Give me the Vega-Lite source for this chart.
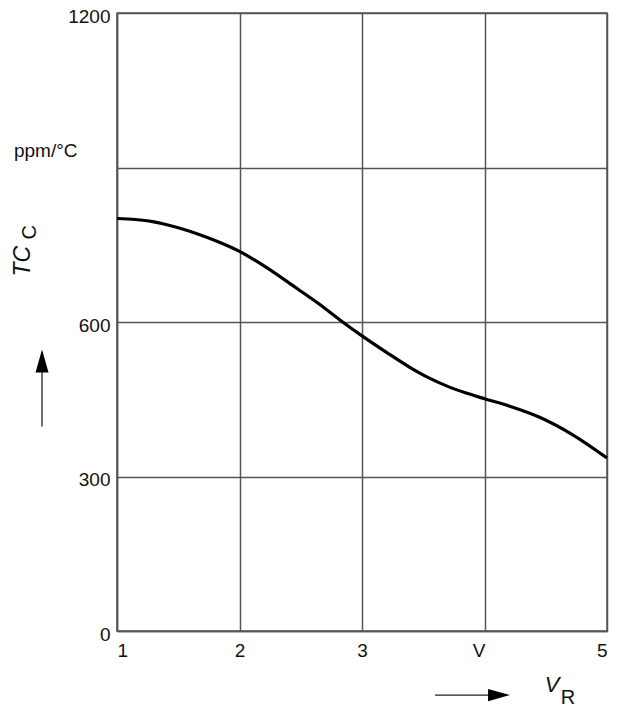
{
  "$schema": "https://vega.github.io/schema/vega-lite/v6.json",
  "width": 490,
  "height": 618,
  "autosize": {"type": "none"},
  "padding": {"left": 117, "top": 13, "right": 14, "bottom": 77},
  "background": "white",
  "config": {
    "font": "Liberation Sans",
    "view": {"stroke": "#555555", "strokeWidth": 1.5},
    "axis": {"labelFont": "Liberation Sans", "labelFontSize": 19, "labelColor": "#111111", "gridColor": "#555555", "gridWidth": 1.5, "gridOpacity": 1, "domainColor": "#555555", "domainWidth": 1.5, "ticks": false}
  },
  "datasets": {
    "curve": [
      {"v": 1.0, "tc": 801}, {"v": 1.15, "tc": 799}, {"v": 1.29, "tc": 795}, {"v": 1.5, "tc": 783},
      {"v": 1.78, "tc": 760}, {"v": 2.0, "tc": 737}, {"v": 2.2, "tc": 709}, {"v": 2.47, "tc": 665},
      {"v": 2.65, "tc": 635}, {"v": 2.82, "tc": 604}, {"v": 3.0, "tc": 573}, {"v": 3.2, "tc": 541},
      {"v": 3.39, "tc": 512}, {"v": 3.55, "tc": 491}, {"v": 3.69, "tc": 476}, {"v": 3.85, "tc": 462},
      {"v": 4.0, "tc": 451}, {"v": 4.2, "tc": 437}, {"v": 4.45, "tc": 415},
      {"v": 4.72, "tc": 381}, {"v": 5.0, "tc": 336}
    ],
    "unit": [{"x": 0.159, "y": 920, "text": "ppm/°C"}],
    "italic": [{"x": 4.551, "y": -105, "text": "V"}],
    "sub": [{"x": 4.682, "y": -130, "text": "R"}],
    "ytitle": [{"x": 0.233, "y": 718, "text": "TC"}],
    "ysub": [{"x": 0.29, "y": 774, "text": "C"}],
    "arrows": [
      {"x": 3.596, "x2": 4.05, "y": -124.5, "y2": -124.5},
      {"x": 0.388, "x2": 0.388, "y": 397, "y2": 510}
    ],
    "headRight": [
      {"x": 4.029, "y": -112.8, "y2": -136.2},
      {"x": 4.208, "y": -124.5, "y2": -124.5}
    ],
    "headUp": [
      {"y": 501.8, "x": 0.335, "x2": 0.441},
      {"y": 546.5, "x": 0.388, "x2": 0.388}
    ]
  },
  "layer": [
    {
      "data": {"name": "curve"},
      "mark": {"type": "line", "color": "black", "strokeWidth": 3.2, "interpolate": "monotone"},
      "encoding": {
        "x": {"field": "v", "type": "quantitative", "scale": {"domain": [1, 5], "nice": false, "zero": false},
          "axis": {"title": null, "values": [1, 2, 3, 4, 5], "labelExpr": "datum.value == 4 ? 'V' : '' + datum.value", "labelPadding": 10, "labelOffset": {"condition": {"test": "datum.value == 4", "value": -6}, "value": 0}}},
        "y": {"field": "tc", "type": "quantitative", "scale": {"domain": [0, 1200], "nice": false},
          "axis": {"title": null, "values": [0, 300, 600, 900, 1200], "labelExpr": "datum.value == 900 ? '' : '' + datum.value", "labelPadding": 7, "labelOffset": 3}}
      }
    },
    {
      "data": {"name": "unit"},
      "mark": {"type": "text", "align": "left", "baseline": "alphabetic", "fontSize": 19, "color": "#111111"},
      "encoding": {"x": {"field": "x", "type": "quantitative"}, "y": {"field": "y", "type": "quantitative"}, "text": {"field": "text"}}
    },
    {
      "data": {"name": "italic"},
      "mark": {"type": "text", "align": "center", "baseline": "middle", "fontSize": 22, "fontStyle": "italic", "color": "#111111"},
      "encoding": {"x": {"field": "x", "type": "quantitative"}, "y": {"field": "y", "type": "quantitative"}, "text": {"field": "text"}}
    },
    {
      "data": {"name": "sub"},
      "mark": {"type": "text", "align": "center", "baseline": "middle", "fontSize": 20, "color": "#111111"},
      "encoding": {"x": {"field": "x", "type": "quantitative"}, "y": {"field": "y", "type": "quantitative"}, "text": {"field": "text"}}
    },
    {
      "data": {"name": "ytitle"},
      "mark": {"type": "text", "align": "center", "baseline": "middle", "fontSize": 23, "fontStyle": "italic", "angle": 270, "color": "#111111"},
      "encoding": {"x": {"field": "x", "type": "quantitative"}, "y": {"field": "y", "type": "quantitative"}, "text": {"field": "text"}}
    },
    {
      "data": {"name": "ysub"},
      "mark": {"type": "text", "align": "center", "baseline": "middle", "fontSize": 20, "angle": 270, "color": "#111111"},
      "encoding": {"x": {"field": "x", "type": "quantitative"}, "y": {"field": "y", "type": "quantitative"}, "text": {"field": "text"}}
    },
    {
      "data": {"name": "arrows"},
      "mark": {"type": "rule", "color": "#222222", "strokeWidth": 1.3},
      "encoding": {"x": {"field": "x", "type": "quantitative"}, "x2": {"field": "x2"}, "y": {"field": "y", "type": "quantitative"}, "y2": {"field": "y2"}}
    },
    {
      "data": {"name": "headRight"},
      "mark": {"type": "area", "color": "black", "opacity": 1, "orient": "vertical", "interpolate": "linear"},
      "encoding": {"x": {"field": "x", "type": "quantitative"}, "y": {"field": "y", "type": "quantitative"}, "y2": {"field": "y2"}}
    },
    {
      "data": {"name": "headUp"},
      "mark": {"type": "area", "color": "black", "opacity": 1, "orient": "horizontal", "interpolate": "linear"},
      "encoding": {"y": {"field": "y", "type": "quantitative"}, "x": {"field": "x", "type": "quantitative"}, "x2": {"field": "x2"}}
    }
  ]
}
